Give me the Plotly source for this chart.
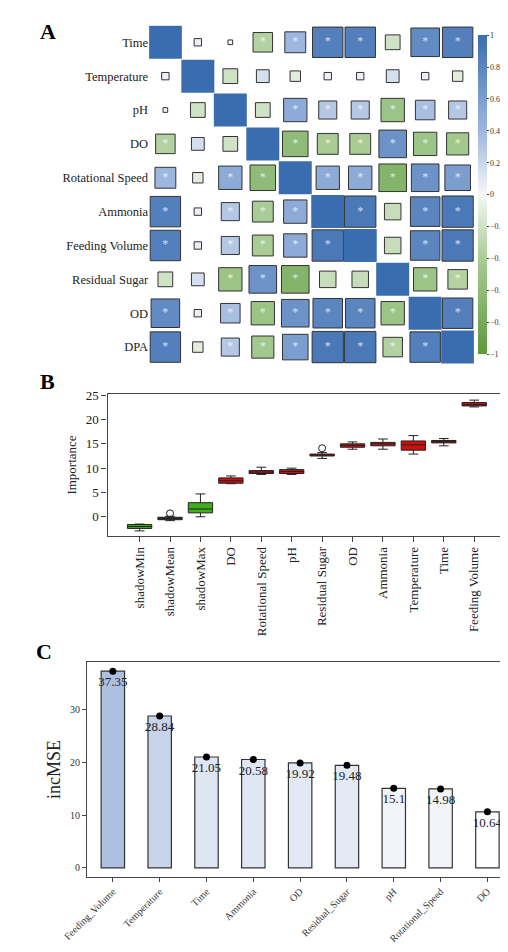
import numpy as np
import plotly.graph_objects as go

vars_ = ["Time", "Temperature", "pH", "DO", "Rotational Speed", "Ammonia",
         "Feeding Volume", "Residual Sugar", "OD", "DPA"]
corr = [
    [1, 0.05, 0.02, -0.35, 0.4, 0.85, 0.85, -0.2, 0.75, 0.85],
    [0.05, 1, -0.2, 0.15, -0.1, 0.05, 0.05, 0.15, 0.05, -0.1],
    [0.02, -0.2, 1, -0.2, 0.5, 0.3, 0.3, -0.5, 0.35, 0.3],
    [-0.35, 0.15, -0.2, 1, -0.6, -0.4, -0.4, 0.7, -0.5, -0.45],
    [0.4, -0.1, 0.5, -0.6, 1, 0.5, 0.5, -0.7, 0.7, 0.6],
    [0.85, 0.05, 0.3, -0.4, 0.5, 1, 0.9, -0.25, 0.8, 0.9],
    [0.85, 0.05, 0.3, -0.4, 0.5, 0.9, 1, -0.25, 0.8, 0.9],
    [-0.2, 0.15, -0.5, 0.7, -0.7, -0.25, -0.25, 1, -0.5, -0.35],
    [0.75, 0.05, 0.35, -0.5, 0.7, 0.8, 0.8, -0.5, 1, 0.85],
    [0.85, -0.1, 0.3, -0.45, 0.6, 0.9, 0.9, -0.35, 0.85, 1],
]

box_names = ["shadowMin", "shadowMean", "shadowMax", "DO", "Rotational Speed", "pH",
             "Residual Sugar", "OD", "Ammonia", "Temperature", "Time", "Feeding Volume"]
box_low = [-2.9, -0.8, 0.0, 6.8, 8.7, 8.7, 12.0, 13.9, 13.9, 12.9, 14.6, 22.6]
box_q1 = [-2.4, -0.6, 0.8, 6.9, 8.9, 8.9, 12.5, 14.3, 14.6, 13.7, 15.2, 22.8]
box_med = [-2.0, -0.3, 1.6, 7.4, 9.2, 9.3, 12.7, 14.7, 15.0, 14.8, 15.5, 23.1]
box_q3 = [-1.6, -0.1, 2.9, 8.0, 9.5, 9.7, 12.9, 15.0, 15.3, 15.6, 15.7, 23.5]
box_high = [-1.5, 0.1, 4.7, 8.4, 10.2, 10.0, 13.2, 15.4, 16.0, 16.7, 16.1, 24.0]
box_colors = ["#3fae1c", "#3a3a3a", "#3fae1c"] + ["#cc1111"] * 9
outlier_names = ["shadowMean", "Residual Sugar"]
outlier_vals = [0.7, 14.1]

mse_names = ["Feeding_Volume", "Temperature", "Time", "Ammonia", "OD",
             "Residual_Sugar", "pH", "Rotational_Speed", "DO"]
mse_vals = [37.35, 28.84, 21.05, 20.58, 19.92, 19.48, 15.1, 14.98, 10.64]

cbar_ticks = [1, 0.8, 0.6, 0.4, 0.2, 0, -0.2, -0.4, -0.6, -0.8, -1]

FONT = "Liberation Serif"
fig = go.Figure()

# ---- Panel A
n = len(vars_)
cell = 33
xs, ys, cs, ss, txt = [], [], [], [], []
for i in range(n):
    for j in range(n):
        r = corr[i][j]
        xs.append(j); ys.append(i); cs.append(r)
        ss.append(cell * np.sqrt(abs(r)))
        txt.append("*" if (i != j and abs(r) >= 0.3) else "")
scale = [[0, "#5e9a3e"], [0.3, "#a9cc95"], [0.5, "#f7f7f7"], [0.7, "#9db7de"], [1, "#3a6cb0"]]
line_w = [0 if xs[k] == ys[k] else 1 for k in range(len(xs))]
fig.add_trace(go.Scatter(
    x=xs, y=ys, mode="markers+text", text=txt,
    textfont=dict(color="rgba(255,255,255,0.75)", size=12, family=FONT),
    textposition="middle center",
    marker=dict(symbol="square", size=ss, color=cs, colorscale=scale, cmin=-1, cmax=1,
                line=dict(color="#333", width=line_w), opacity=1,
                colorbar=dict(x=0.922, xanchor="left", y=0.809, yanchor="middle", len=0.358,
                              thickness=9, outlinewidth=0, ticks="outside", ticklen=2, xpad=0,
                              tickvals=cbar_ticks,
                              tickfont=dict(family=FONT, size=8, color="#333"))),
    xaxis="x", yaxis="y", showlegend=False, hoverinfo="skip"))

# ---- Panel B
for k, nm in enumerate(box_names):
    fig.add_trace(go.Box(
        x=[nm], q1=[box_q1[k]], median=[box_med[k]], q3=[box_q3[k]],
        lowerfence=[box_low[k]], upperfence=[box_high[k]],
        fillcolor=box_colors[k], line=dict(color="#222", width=1), width=0.8,
        whiskerwidth=0.4, xaxis="x2", yaxis="y2", showlegend=False, boxpoints=False))
fig.add_trace(go.Scatter(x=outlier_names, y=outlier_vals, mode="markers",
                         marker=dict(symbol="circle-open", size=7, color="#222"),
                         xaxis="x2", yaxis="y2", showlegend=False))

# ---- Panel C
base = np.array([174, 192, 224]); white = np.array([255, 255, 255])
vmin, vmax = min(mse_vals), max(mse_vals)
cols = []
for v in mse_vals:
    t = (v - vmin) / (vmax - vmin)
    c = white + (base - white) * t
    cols.append("rgb(%d,%d,%d)" % tuple(c))
fig.add_trace(go.Bar(x=mse_names, y=mse_vals, marker=dict(color=cols, line=dict(color="#333", width=1.2)),
                     width=0.5, xaxis="x3", yaxis="y3", showlegend=False))
fig.add_trace(go.Scatter(x=mse_names, y=mse_vals, mode="markers+text",
                         text=[str(v) for v in mse_vals], textposition="bottom center",
                         textfont=dict(family=FONT, size=13, color="#222"),
                         marker=dict(color="black", size=7), xaxis="x3", yaxis="y3", showlegend=False))

ax_common = dict(showgrid=False, zeroline=False)
fig.update_layout(
    width=508, height=952, margin=dict(l=0, r=0, t=0, b=0),
    paper_bgcolor="white", plot_bgcolor="white",
    font=dict(family=FONT, color="#222"),
    xaxis=dict(domain=[0.242, 0.913], range=[-0.5, 9.5], visible=False, **ax_common),
    yaxis=dict(domain=[0.630, 0.988], range=[9.5, -0.5], tickvals=list(range(n)), ticktext=vars_,
               tickfont=dict(size=12.5, family=FONT), ticks="", showline=False, **ax_common),
    xaxis2=dict(domain=[0.156, 0.980], anchor="y2", tickangle=-90, ticks="outside", ticklen=5,
                tickfont=dict(size=13, family=FONT), showline=True, mirror=True, linecolor="#444",
                linewidth=1.2, **ax_common),
    yaxis2=dict(domain=[0.4485, 0.598], anchor="x2", range=[-3.9, 25.2], tickvals=[0, 5, 10, 15, 20, 25],
                ticks="outside", ticklen=5, tickfont=dict(size=13, family=FONT),
                title=dict(text="Importance", font=dict(size=13, family=FONT), standoff=6),
                showline=True, mirror=True, linecolor="#444", linewidth=1.2, **ax_common),
    xaxis3=dict(domain=[0.114, 0.994], anchor="y3", tickangle=-45, ticks="outside", ticklen=4,
                tickfont=dict(size=10, family=FONT, color="#333"), showline=True, mirror=True,
                linecolor="#444", linewidth=1.2, **ax_common),
    yaxis3=dict(domain=[0.088, 0.315], anchor="x3", range=[-1.7, 39.1], tickvals=[0, 10, 20, 30],
                ticks="outside", ticklen=4, tickfont=dict(size=10, family=FONT, color="#333"),
                title=dict(text="incMSE", font=dict(size=18, family=FONT), standoff=4),
                showline=True, mirror=True, linecolor="#444", linewidth=1.2, **ax_common),
    annotations=[
        dict(text="<b>A</b>", x=0.012, y=0.997, xref="paper", yref="paper", xanchor="left", yanchor="top",
             showarrow=False, font=dict(size=22, family=FONT, color="black")),
        dict(text="<b>B</b>", x=0.012, y=1 - 355 / 952, xref="paper", yref="paper", xanchor="left", yanchor="top",
             showarrow=False, font=dict(size=22, family=FONT, color="black")),
        dict(text="<b>C</b>", x=0.005, y=1 - 627 / 952, xref="paper", yref="paper", xanchor="left", yanchor="top",
             showarrow=False, font=dict(size=22, family=FONT, color="black")),
    ],
)
fig.write_html("out.html")
